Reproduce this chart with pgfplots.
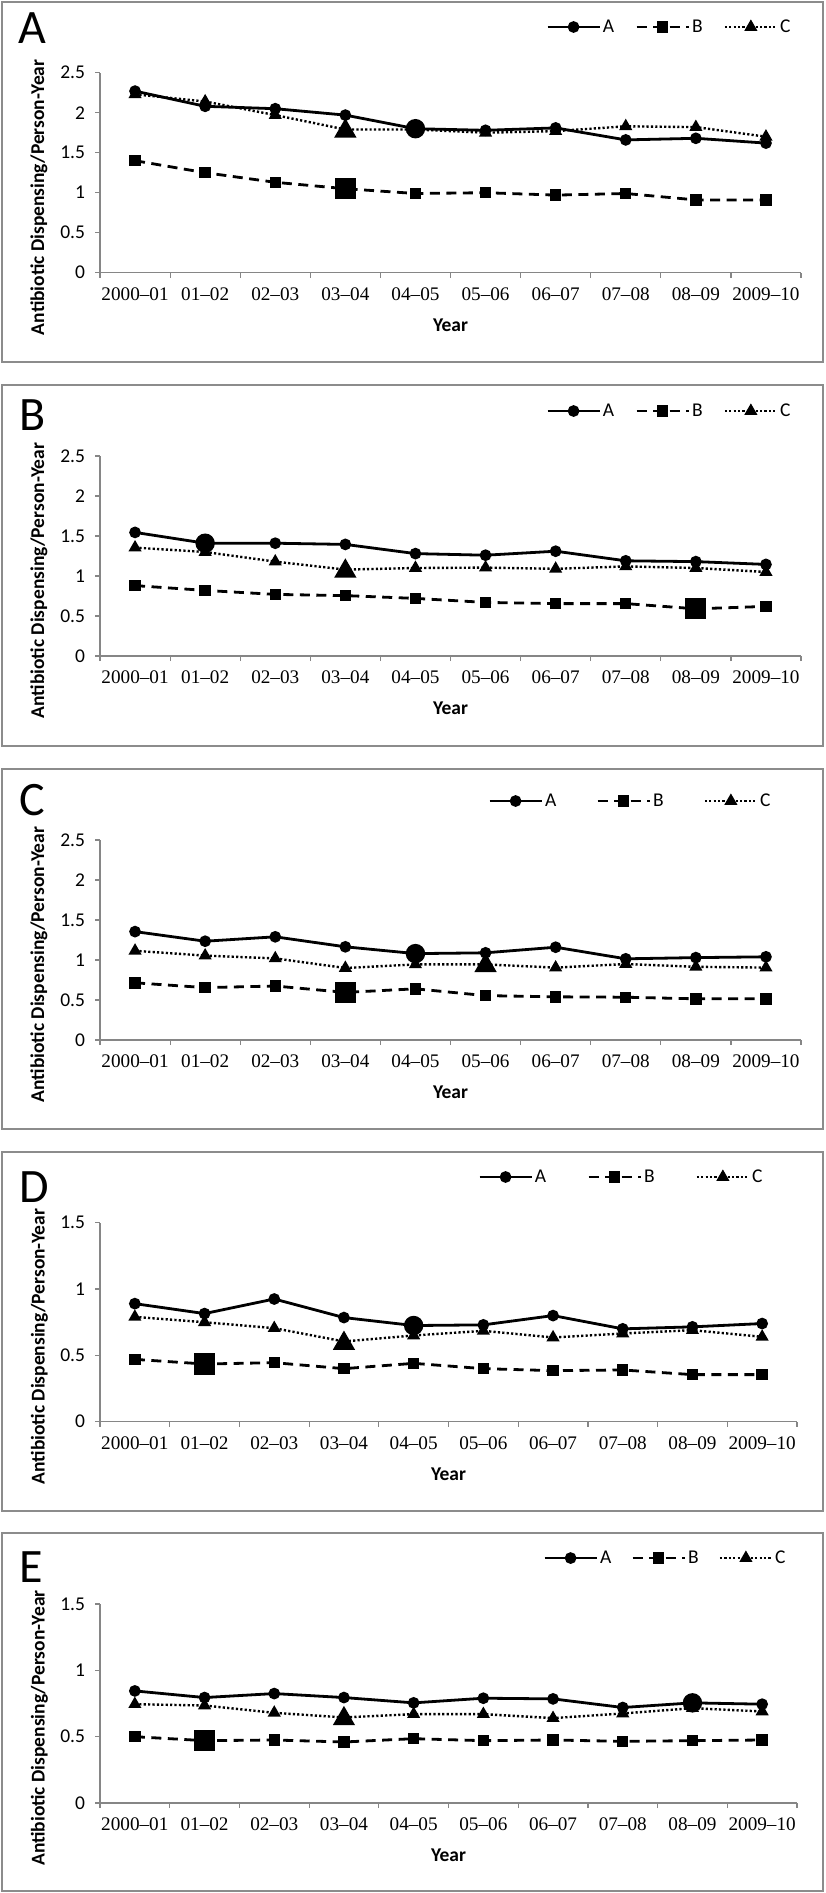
\documentclass[border=0pt]{standalone}
\usepackage{fontspec}
\usepackage{pgfplots}
\pgfplotsset{compat=1.18}
\newfontfamily\carlito{Carlito}
\newfontfamily\tnr{Liberation Serif}
\definecolor{axgray}{RGB}{134,134,134}
\definecolor{boxgray}{RGB}{140,140,140}
\newcommand\tickfont{\tnr\fontsize{19.2}{23}\selectfont}
\newcommand\yfont{\carlito\fontsize{19.5}{23}\selectfont}
\newcommand\labfont{\carlito\bfseries\fontsize{19.5}{23}\selectfont}
\newcommand\panelfont{\carlito\fontsize{48}{52}\selectfont}
\pgfplotsset{
 panel/.style={
  scale only axis, height=200pt,
  xmin=0, xmax=10, ymin=0,
  axis x line=bottom, axis y line=left,
  axis line style={axgray, line width=1.2pt, -},
  every outer x axis line/.append style={-},
  every outer y axis line/.append style={-},
  xtick={0,...,10},
  x tick label as interval,
  xticklabels={2000–01,01–02,02–03,03–04,04–05,05–06,06–07,07–08,08–09,2009–10},
  tick align=outside, major tick length=5pt,
  tick style={axgray, line width=1.2pt},
  xticklabel style={font=\tickfont, yshift=-6.5pt, text=black},
  yticklabel style={font=\yfont, xshift=-6.5pt, text=black},
  xlabel={Year}, ylabel={Antibiotic Dispensing/Person-Year},
  every axis x label/.style={at={(rel axis cs:0.5,0)}, yshift=-52.5pt, anchor=center, font=\labfont},
  every axis y label/.style={at={(rel axis cs:-0.087,0.377)}, rotate=90, anchor=center, font=\labfont},
  legend columns=3,
  legend image code/.code={\draw[mark repeat=2,mark phase=2,##1] plot coordinates {(0pt,0pt) (26pt,0pt) (52pt,0pt)};},
  clip=false,
 },
 big25/.style={ymax=2.5, ytick={0,0.5,1,1.5,2,2.5}, yticklabels={0,0.5,1,1.5,2,2.5}},
 big15/.style={ymax=1.5, ytick={0,0.5,1,1.5}, yticklabels={0,0.5,1,1.5}},
 sA/.style={black, line width=2.8pt, solid, mark=*, mark size=4.4pt, mark options={solid}},
 sB/.style={black, line width=2.8pt, dash pattern=on 10pt off 6.5pt, mark=square*, mark size=4.3pt, mark options={solid}},
 sC/.style={black, line width=2.4pt, dash pattern=on 2.2pt off 2.2pt, mark=triangle*, mark size=5.2pt, mark options={solid}},
 bigA/.style={sA, only marks, mark size=8.3pt, forget plot},
 bigB/.style={sB, only marks, mark size=9.2pt, forget plot},
 bigC/.style={sC, only marks, mark size=10.5pt, forget plot},
}
\begin{document}
\begin{tikzpicture}
\useasboundingbox (0pt,0pt) rectangle (826pt,-1893pt);
% boxes
\draw[boxgray, line width=2pt] (2pt,-2pt) rectangle (823pt,-362pt);
\draw[boxgray, line width=2pt] (2pt,-385pt) rectangle (823pt,-746pt);
\draw[boxgray, line width=2pt] (2pt,-769pt) rectangle (823pt,-1129pt);
\draw[boxgray, line width=2pt] (2pt,-1152pt) rectangle (823pt,-1511pt);
\draw[boxgray, line width=2pt] (2pt,-1533pt) rectangle (823pt,-1891pt);
\node[anchor=base west, font=\panelfont, inner sep=0pt] at (18pt,-43pt) {A};
\node[anchor=base west, font=\panelfont, inner sep=0pt] at (19pt,-430pt) {B};
\node[anchor=base west, font=\panelfont, inner sep=0pt] at (19pt,-815pt) {C};
\node[anchor=base west, font=\panelfont, inner sep=0pt] at (19pt,-1202pt) {D};
\node[anchor=base west, font=\panelfont, inner sep=0pt] at (19pt,-1582pt) {E};

% Panel A
\begin{axis}[panel, big25, width=701pt, at={(100pt,-272.7pt)}, anchor=south west,
  legend style={at={(rel axis cs:0.6362,1.2285)}, anchor=west, draw=none, fill=none, inner sep=0pt, font=\yfont, /tikz/every even column/.append style={column sep=19pt}}]
\addplot[sA] coordinates {(0.5,2.27) (1.5,2.08) (2.5,2.05) (3.5,1.97) (4.5,1.80) (5.5,1.78) (6.5,1.81) (7.5,1.66) (8.5,1.68) (9.5,1.62)};
\addlegendentry{A}
\addplot[sB] coordinates {(0.5,1.40) (1.5,1.25) (2.5,1.13) (3.5,1.05) (4.5,0.99) (5.5,1.00) (6.5,0.97) (7.5,0.99) (8.5,0.91) (9.5,0.91)};
\addlegendentry{B}
\addplot[sC] coordinates {(0.5,2.23) (1.5,2.14) (2.5,1.97) (3.5,1.79) (4.5,1.79) (5.5,1.75) (6.5,1.77) (7.5,1.83) (8.5,1.82) (9.5,1.70)};
\addlegendentry{C}
\addplot[bigA] coordinates {(4.5,1.80)};
\addplot[bigB] coordinates {(3.5,1.05)};
\addplot[bigC] coordinates {(3.5,1.77)};
\end{axis}

% Panel B
\begin{axis}[panel, big25, width=701pt, at={(100pt,-656pt)}, anchor=south west,
  legend style={at={(rel axis cs:0.6362,1.225)}, anchor=west, draw=none, fill=none, inner sep=0pt, font=\yfont, /tikz/every even column/.append style={column sep=19pt}}]
\addplot[sA] coordinates {(0.5,1.545) (1.5,1.41) (2.5,1.41) (3.5,1.395) (4.5,1.28) (5.5,1.26) (6.5,1.31) (7.5,1.19) (8.5,1.18) (9.5,1.145)};
\addlegendentry{A}
\addplot[sB] coordinates {(0.5,0.88) (1.5,0.82) (2.5,0.77) (3.5,0.755) (4.5,0.72) (5.5,0.67) (6.5,0.655) (7.5,0.655) (8.5,0.59) (9.5,0.62)};
\addlegendentry{B}
\addplot[sC] coordinates {(0.5,1.355) (1.5,1.30) (2.5,1.18) (3.5,1.08) (4.5,1.10) (5.5,1.105) (6.5,1.09) (7.5,1.12) (8.5,1.10) (9.5,1.05)};
\addlegendentry{C}
\addplot[bigA] coordinates {(1.5,1.41)};
\addplot[bigB] coordinates {(8.5,0.59)};
\addplot[bigC] coordinates {(3.5,1.06)};
\end{axis}

% Panel C
\begin{axis}[panel, big25, width=701pt, at={(100pt,-1040pt)}, anchor=south west,
  legend style={at={(rel axis cs:0.5535,1.195)}, anchor=west, draw=none, fill=none, inner sep=0pt, font=\yfont, /tikz/every even column/.append style={column sep=38pt}}]
\addplot[sA] coordinates {(0.5,1.355) (1.5,1.235) (2.5,1.29) (3.5,1.165) (4.5,1.08) (5.5,1.09) (6.5,1.16) (7.5,1.015) (8.5,1.03) (9.5,1.04)};
\addlegendentry{A}
\addplot[sB] coordinates {(0.5,0.715) (1.5,0.655) (2.5,0.675) (3.5,0.595) (4.5,0.64) (5.5,0.555) (6.5,0.54) (7.5,0.535) (8.5,0.515) (9.5,0.515)};
\addlegendentry{B}
\addplot[sC] coordinates {(0.5,1.115) (1.5,1.055) (2.5,1.02) (3.5,0.90) (4.5,0.945) (5.5,0.945) (6.5,0.905) (7.5,0.95) (8.5,0.915) (9.5,0.905)};
\addlegendentry{C}
\addplot[bigA] coordinates {(4.5,1.08)};
\addplot[bigB] coordinates {(3.5,0.595)};
\addplot[bigC] coordinates {(5.5,0.93)};
\end{axis}

% Panel D
\begin{axis}[panel, big15, width=697pt, height=199pt, at={(100pt,-1421.7pt)}, anchor=south west,
  legend style={at={(rel axis cs:0.5423,1.2297)}, anchor=west, draw=none, fill=none, inner sep=0pt, font=\yfont, /tikz/every even column/.append style={column sep=39pt}}]
\addplot[sA] coordinates {(0.5,0.89) (1.5,0.815) (2.5,0.925) (3.5,0.785) (4.5,0.725) (5.5,0.73) (6.5,0.80) (7.5,0.70) (8.5,0.715) (9.5,0.74)};
\addlegendentry{A}
\addplot[sB] coordinates {(0.5,0.47) (1.5,0.435) (2.5,0.445) (3.5,0.40) (4.5,0.44) (5.5,0.40) (6.5,0.385) (7.5,0.39) (8.5,0.355) (9.5,0.355)};
\addlegendentry{B}
\addplot[sC] coordinates {(0.5,0.79) (1.5,0.75) (2.5,0.705) (3.5,0.605) (4.5,0.65) (5.5,0.685) (6.5,0.635) (7.5,0.665) (8.5,0.69) (9.5,0.64)};
\addlegendentry{C}
\addplot[bigA] coordinates {(4.5,0.725)};
\addplot[bigB] coordinates {(1.5,0.435)};
\addplot[bigC] coordinates {(3.5,0.59)};
\end{axis}

% Panel E
\begin{axis}[panel, big15, width=697pt, height=199pt, at={(100pt,-1803pt)}, anchor=south west,
  legend style={at={(rel axis cs:0.6356,1.231)}, anchor=west, draw=none, fill=none, inner sep=0pt, font=\yfont, /tikz/every even column/.append style={column sep=18pt}}]
\addplot[sA] coordinates {(0.5,0.845) (1.5,0.795) (2.5,0.825) (3.5,0.795) (4.5,0.755) (5.5,0.79) (6.5,0.785) (7.5,0.72) (8.5,0.755) (9.5,0.745)};
\addlegendentry{A}
\addplot[sB] coordinates {(0.5,0.50) (1.5,0.47) (2.5,0.475) (3.5,0.46) (4.5,0.485) (5.5,0.47) (6.5,0.475) (7.5,0.465) (8.5,0.47) (9.5,0.475)};
\addlegendentry{B}
\addplot[sC] coordinates {(0.5,0.745) (1.5,0.735) (2.5,0.68) (3.5,0.645) (4.5,0.67) (5.5,0.67) (6.5,0.64) (7.5,0.675) (8.5,0.715) (9.5,0.69)};
\addlegendentry{C}
\addplot[bigA] coordinates {(8.5,0.755)};
\addplot[bigB] coordinates {(1.5,0.47)};
\addplot[bigC] coordinates {(3.5,0.635)};
\end{axis}
\end{tikzpicture}
\end{document}
